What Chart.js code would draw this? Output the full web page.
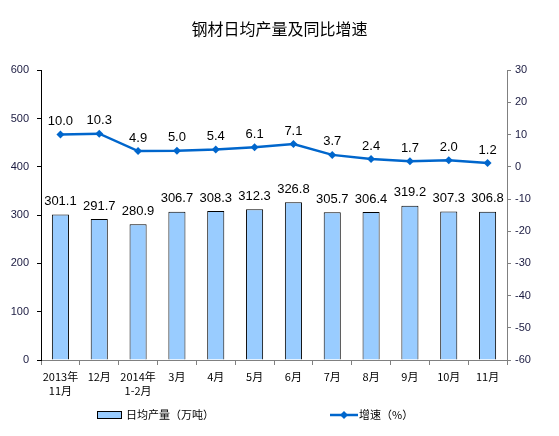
<!DOCTYPE html>
<html>
<head>
<meta charset="utf-8">
<script src="https://cdn.jsdelivr.net/npm/chart.js@4"></script>
<style>
html,body{margin:0;padding:0;background:#fff;}
#wrap{width:559px;height:436px;}
</style>
</head>
<body>
<div id="wrap"><canvas id="c" width="559" height="436"></canvas></div>
<script>
const categories = [["2013年","11月"],"12月",["2014年","1-2月"],"3月","4月","5月","6月","7月","8月","9月","10月","11月"];
const output = [301.1,291.7,280.9,306.7,308.3,312.3,326.8,305.7,306.4,319.2,307.3,306.8];
const growth = [10.0,10.3,4.9,5.0,5.4,6.1,7.1,3.7,2.4,1.7,2.0,1.2];
const leftTicks = [0,100,200,300,400,500,600];
const rightTicks = [-60,-50,-40,-30,-20,-10,0,10,20,30];
const seriesNames = ["日均产量（万吨）","增速（%）"];
const titleText = "钢材日均产量及同比增速";

const BAR_FILL = '#99CCFF';
const LINE_COL = '#0066CC';
const CJK = '"Noto Sans CJK SC", "Liberation Sans", sans-serif';
const LAT = '"Liberation Sans", Arial, sans-serif';

const labelPlugin = {
  id: 'valueLabels',
  afterDatasetsDraw(chart) {
    const ctx = chart.ctx;
    ctx.save();
    ctx.font = '13px ' + LAT;
    ctx.fillStyle = '#000';
    ctx.textAlign = 'center';
    ctx.textBaseline = 'middle';
    chart.data.datasets.forEach((ds, i) => {
      const meta = chart.getDatasetMeta(i);
      meta.data.forEach((el, j) => {
        const v = ds.data[j];
        ctx.fillText(v.toFixed(1), el.x, el.y - 13);
      });
    });
    ctx.restore();
  }
};

const legendPlugin = {
  id: 'customLegend',
  afterDraw(chart) {
    const ctx = chart.ctx;
    ctx.save();
    const y = 415;
    ctx.fillStyle = BAR_FILL;
    ctx.fillRect(97, y - 4, 25, 8);
    ctx.strokeStyle = '#000';
    ctx.lineWidth = 1;
    ctx.strokeRect(97.5, y - 3.5, 24, 7);
    ctx.font = '11px ' + CJK;
    ctx.fillStyle = '#000';
    ctx.textBaseline = 'middle';
    ctx.textAlign = 'left';
    ctx.fillText(seriesNames[0], 126, y);
    ctx.strokeStyle = LINE_COL;
    ctx.lineWidth = 2.5;
    ctx.beginPath();
    ctx.moveTo(330, y);
    ctx.lineTo(358, y);
    ctx.stroke();
    ctx.fillStyle = LINE_COL;
    ctx.beginPath();
    ctx.moveTo(344, y - 4);
    ctx.lineTo(348, y);
    ctx.lineTo(344, y + 4);
    ctx.lineTo(340, y);
    ctx.closePath();
    ctx.fill();
    ctx.fillStyle = '#000';
    ctx.fillText(seriesNames[1], 359, y);
    ctx.restore();
  }
};

new Chart(document.getElementById('c'), {
  data: {
    labels: categories,
    datasets: [
      {
        type: 'line',
        label: seriesNames[1],
        data: growth,
        yAxisID: 'y1',
        borderColor: LINE_COL,
        backgroundColor: LINE_COL,
        borderWidth: 2.5,
        pointStyle: 'rectRot',
        pointRadius: 4,
        pointBorderWidth: 0,
        pointBackgroundColor: LINE_COL,
        pointBorderColor: LINE_COL,
        tension: 0,
        order: 1
      },
      {
        type: 'bar',
        label: seriesNames[0],
        data: output,
        yAxisID: 'y',
        backgroundColor: BAR_FILL,
        borderColor: '#000',
        borderWidth: 1,
        barPercentage: 0.44,
        categoryPercentage: 1.0,
        order: 2
      }
    ]
  },
  options: {
    responsive: false,
    animation: false,
    devicePixelRatio: 1,
    layout: { padding: { left: 0, right: 0, top: 0, bottom: 36 } },
    plugins: {
      legend: { display: false },
      tooltip: { enabled: false },
      title: {
        display: true,
        text: titleText,
        color: '#000',
        font: { family: CJK, size: 16, weight: 'normal' },
        padding: { top: 19, bottom: 32 }
      }
    },
    scales: {
      x: {
        grid: { display: true, drawOnChartArea: false, drawTicks: true, tickLength: 5, color: '#808080', offset: true },
        border: { color: '#808080', width: 1 },
        ticks: { color: '#000', font: { family: CJK, size: 11, lineHeight: 1.35 }, maxRotation: 0, autoSkip: false, padding: 4 },
        afterFit(s) { s.height = 40; }
      },
      y: {
        position: 'left',
        min: 0, max: 600,
        afterBuildTicks(s) { s.ticks = leftTicks.map(v => ({ value: v })); },
        grid: { display: true, drawOnChartArea: false, drawTicks: true, tickLength: 4, color: '#000' },
        border: { color: '#000', width: 1 },
        ticks: { color: '#1a1a40', font: { family: LAT, size: 11 }, padding: 8 },
        afterFit(s) { s.width = 41; }
      },
      y1: {
        position: 'right',
        min: -60, max: 30,
        afterBuildTicks(s) { s.ticks = rightTicks.map(v => ({ value: v })); },
        grid: { display: true, drawOnChartArea: false, drawTicks: true, tickLength: 4, color: '#808080' },
        border: { color: '#808080', width: 1 },
        ticks: { color: '#1a1a40', font: { family: LAT, size: 11 }, padding: 4 },
        afterFit(s) { s.width = 52; }
      }
    }
  },
  plugins: [labelPlugin, legendPlugin]
});
</script>
</body>
</html>
